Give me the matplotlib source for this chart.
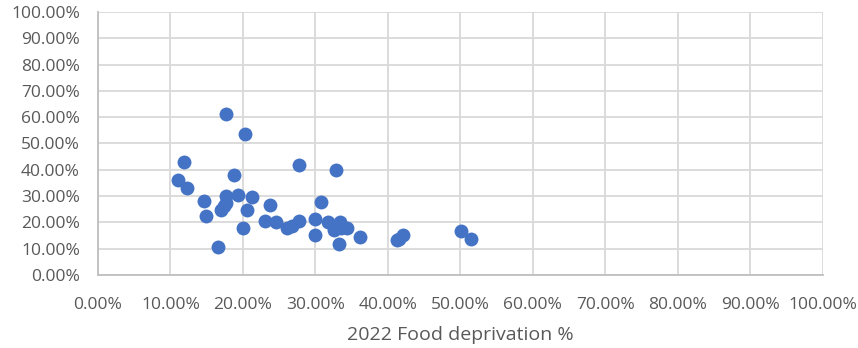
import matplotlib
matplotlib.use("Agg")
import matplotlib.pyplot as plt
from matplotlib.ticker import PercentFormatter

# Food deprivation (x) vs. second indicator (y), both as fractions in %
food_deprivation = [11.1, 11.9, 12.3, 14.6, 14.9, 16.6, 17.0, 17.4, 17.7, 17.6,
                    17.7, 18.8, 19.3, 20.0, 20.3, 20.6, 21.3, 23.0, 23.8, 24.6,
                    26.1, 26.8, 27.8, 27.7, 30.0, 30.0, 30.8, 31.7, 32.6, 32.9,
                    33.4, 33.5, 34.4, 33.2, 36.1, 41.3, 41.5, 42.1, 50.1, 51.5]
indicator = [36.0, 43.1, 33.2, 28.1, 22.4, 10.8, 24.8, 26.3, 27.5, 61.1,
             30.2, 38.0, 30.4, 18.0, 53.5, 24.6, 29.7, 20.4, 26.6, 20.0,
             17.9, 18.6, 20.6, 41.8, 21.3, 15.2, 27.6, 20.0, 17.1, 39.9,
             20.3, 17.8, 18.0, 11.7, 14.6, 13.3, 13.6, 15.2, 16.7, 13.6]
ticks = [0, 10, 20, 30, 40, 50, 60, 70, 80, 90, 100]
x_title = "2022 Food deprivation %"

plt.rcParams['font.family'] = ['Open Sans', 'DejaVu Sans']

fig = plt.figure(figsize=(8.58, 3.48), dpi=100)
ax = fig.add_axes([0.1142, 0.2098, 0.8445, 0.7557])

ax.scatter(food_deprivation, indicator, s=100, color="#4472C4", zorder=3,
           linewidths=0)

ax.set_xlim(0, 100)
ax.set_ylim(0, 100)
ax.set_xticks(ticks)
ax.set_yticks(ticks)
fmt = PercentFormatter(decimals=2)
ax.xaxis.set_major_formatter(fmt)
ax.yaxis.set_major_formatter(fmt)

ax.grid(True, color="#D9D9D9", linewidth=1.3, zorder=0)
for side in ["top", "right"]:
    ax.spines[side].set_visible(False)
for side in ["left", "bottom"]:
    ax.spines[side].set_color("#BFBFBF")
    ax.spines[side].set_linewidth(1.3)

ax.tick_params(length=0, labelsize=12.5, labelcolor="#595959")
ax.tick_params(axis="y", pad=13)
ax.tick_params(axis="x", pad=15.5)
ax.set_xlabel(x_title, fontsize=14, color="#595959", labelpad=10)

fig.savefig("out.png", dpi=100)
